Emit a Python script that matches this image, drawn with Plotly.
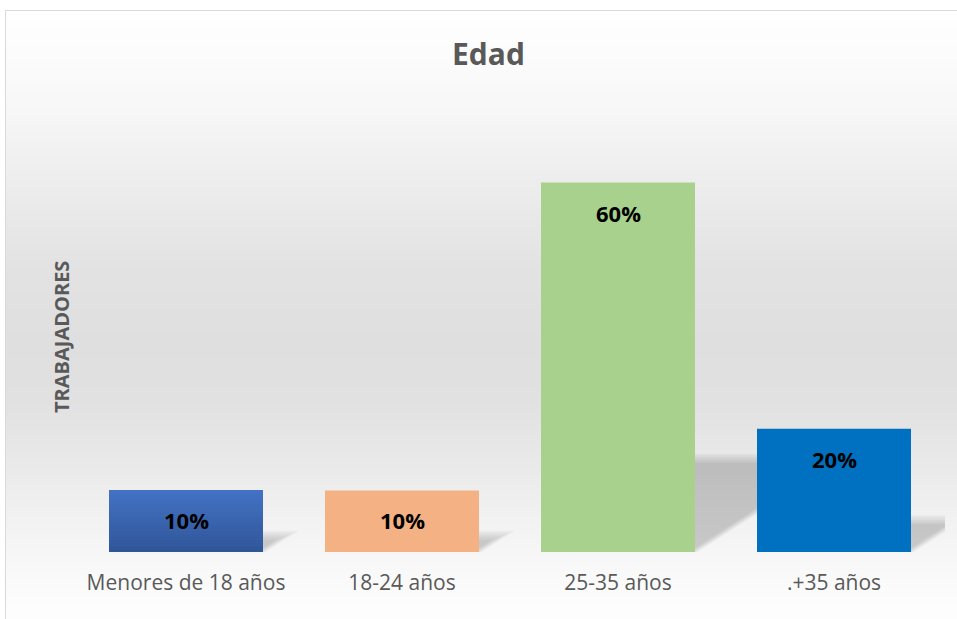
import plotly.graph_objects as go

# chart data
categories = ["Menores de 18 años", "18-24 años", "25-35 años", ".+35 años"]
values = [0.10, 0.10, 0.60, 0.20]
bar_colors = ["#4472C4", "#F4B183", "#A9D18E", "#0070C0"]
title_text = "Edad"
y_title = "TRABAJADORES"

W, H = 957, 619
L, R, T, B = 78, 12, 121, 67
plot_w = W - L - R
plot_h = H - T - B
bargap = 0.287
hw = (1 - bargap) / 2
x_range = [-0.5, 3.5 + 3 / 216]
y_range = [0, 0.7]
sx = plot_w / (x_range[1] - x_range[0])   # px per category unit
sy = plot_h / (y_range[1] - y_range[0])   # px per value unit

def px_x(px):
    return (px - L) / plot_w

def px_y(py):
    return (H - B - py) / plot_h

def mix(c1, c2, t):
    a = [int(c1[i:i + 2], 16) for i in (1, 3, 5)]
    b = [int(c2[i:i + 2], 16) for i in (1, 3, 5)]
    return "rgb(%d,%d,%d)" % tuple(round(a[j] + (b[j] - a[j]) * t) for j in range(3))

xs = list(range(len(categories)))

fig = go.Figure(go.Bar(
    x=xs, y=values,
    marker=dict(color=bar_colors, line=dict(width=0)),
    hoverinfo="skip",
))

shapes = []

# background gradient (white -> gray -> white), page y stops
stops = [(10, 255), (100, 248), (180, 237), (260, 227), (340, 223),
         (400, 225), (460, 233), (520, 242), (570, 249), (619, 254)]
step = 4
y = 10
while y < H:
    for (y0, g0), (y1, g1) in zip(stops[:-1], stops[1:]):
        if y0 <= y <= y1:
            g = g0 + (g1 - g0) * (y - y0) / (y1 - y0)
            break
    g = round(g)
    shapes.append(dict(type="rect", xref="paper", yref="paper", layer="below",
                       x0=px_x(5), x1=px_x(962), y0=px_y(y + step + 0.5), y1=px_y(y),
                       fillcolor="rgb(%d,%d,%d)" % (g, g, g), line=dict(width=0)))
    y += step

# perspective shadows: bar sheared up-right, soft edges from stacked layers
for i, v in zip(xs, values):
    x0, x1 = i - hw, i + hw
    hs = 0.25 * v + 3 / sy
    d = 1.55 * hs * sy / sx
    nl = 7
    for k in range(nl):
        e = (k - 2) * 1.6
        hk = hs - e / sy
        dk = d * hk / hs
        ex = e / sx
        path = "M %f,0 L %f,0 L %f,%f L %f,%f Z" % (
            x0, x1 - ex, x1 - ex + dk, hk, x0 + dk, hk)
        shapes.append(dict(type="path", xref="x", yref="y", layer="below", path=path,
                           fillcolor="rgba(0,0,0,0.027)", line=dict(width=0)))

# vertical gradient on the first bar
n = 20
for k in range(n):
    shapes.append(dict(type="rect", xref="x", yref="y", layer="above",
                       x0=xs[0] - hw, x1=xs[0] + hw,
                       y0=values[0] * k / n, y1=values[0] * (k + 1) / n + 0.0005,
                       fillcolor=mix("#2F5597", "#4472C4", (k + 0.5) / n),
                       line=dict(width=0)))

# chart area border
shapes.append(dict(type="rect", xref="paper", yref="paper", layer="above",
                   x0=px_x(5.5), x1=px_x(965), y0=px_y(630), y1=px_y(10.5),
                   line=dict(color="#D9D9D9", width=1), fillcolor="rgba(0,0,0,0)"))

annotations = []
for i, v in zip(xs, values):
    annotations.append(dict(x=i, y=v, xref="x", yref="y", yshift=-30,
                            xanchor="center", yanchor="middle",
                            text="<b>%d%%</b>" % round(v * 100), showarrow=False,
                            font=dict(family="Open Sans", size=22, color="#000000")))

annotations.append(dict(x=px_x(488), y=px_y(54), xref="paper", yref="paper",
                        xanchor="center", yanchor="middle",
                        text="<b>%s</b>" % title_text, showarrow=False,
                        font=dict(family="Open Sans", size=30, color="#595959")))
annotations.append(dict(x=px_x(61), y=px_y(337), xref="paper", yref="paper",
                        xanchor="center", yanchor="middle",
                        text="<b>%s</b>" % y_title, textangle=-90, showarrow=False,
                        font=dict(family="Open Sans", size=20, color="#595959")))

fig.update_layout(
    width=W, height=H,
    margin=dict(l=L, r=R, t=T, b=B),
    paper_bgcolor="#FFFFFF",
    plot_bgcolor="rgba(0,0,0,0)",
    bargap=bargap,
    showlegend=False,
    shapes=shapes,
    annotations=annotations,
    font=dict(family="Open Sans"),
    xaxis=dict(range=x_range, tickvals=xs, ticktext=categories,
               showgrid=False, zeroline=False, showline=False, ticks="",
               ticklabelstandoff=16,
               tickfont=dict(family="Open Sans", size=21, color="#595959")),
    yaxis=dict(range=y_range, visible=False, showgrid=False, zeroline=False),
)

fig.write_html("out.html", config={"displayModeBar": False},
               post_script="document.body.style.margin='0';")
